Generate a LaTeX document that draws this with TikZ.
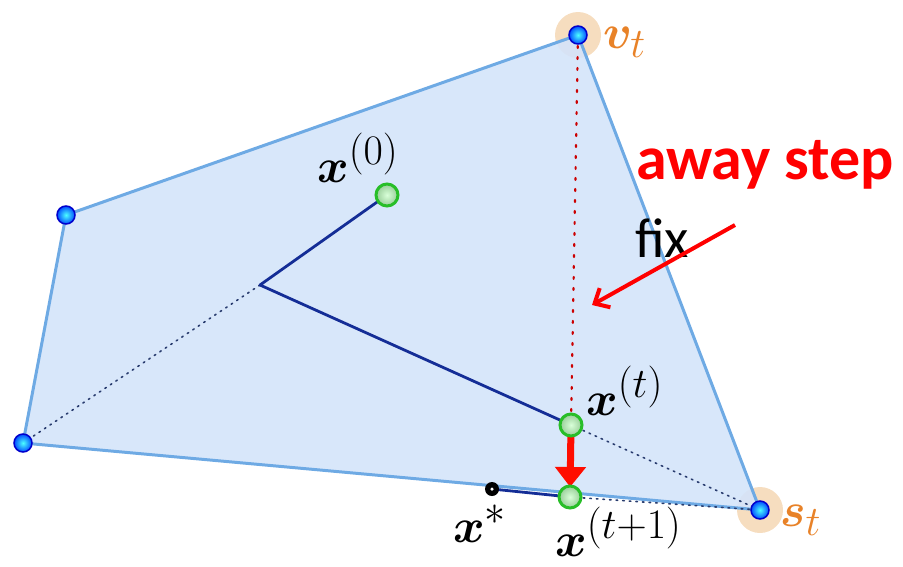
\RequirePackage{fix-cm}
\documentclass[tikz,border=0pt]{standalone}
\usepackage{fontspec}
\usepackage{amsmath,bm}
\DeclareMathSizes{48}{48}{42}{34}
\newfontfamily\calib{Carlito}
\usetikzlibrary{arrows.meta}
\definecolor{polyfill}{RGB}{212,228,250}
\definecolor{polyedge}{RGB}{110,170,228}
\definecolor{pathblue}{RGB}{20,45,150}
\definecolor{dotblue}{RGB}{40,60,110}
\definecolor{halo}{RGB}{245,215,180}
\definecolor{orangetxt}{RGB}{232,130,40}
\definecolor{ptgreen}{RGB}{40,190,40}
\tikzset{
  vtx/.style={circle,inner sep=0pt,minimum size=18pt,draw=blue!80!black,line width=1.5pt,inner color=cyan!70,outer color=blue!70!cyan},
  grn/.style={circle,inner sep=0pt,minimum size=22pt,draw=ptgreen,line width=3pt,inner color=white!85!green,outer color=green!35!gray!60},
  haloc/.style={circle,inner sep=0pt,minimum size=46pt,fill=halo,opacity=0.85},
  lbl/.style={inner sep=0pt,anchor=base west,font=\fontsize{48}{52}\selectfont},
  pth/.style={pathblue,line width=2.8pt},
  dts/.style={dotblue,line width=1.6pt,dash pattern=on 1.6pt off 5pt,line cap=round},
}
\begin{document}
\begin{tikzpicture}[x=1pt,y=-1pt]
\useasboundingbox (0,0) rectangle (903,566);
% halos
\node[haloc] (hv) at (578,35) {};
\node[haloc] (hs) at (760,510) {};
% polygon
\coordinate (V) at (578,35);
\coordinate (S) at (760,510);
\coordinate (L) at (23,443);
\coordinate (U) at (66,215);
\coordinate (C) at (260,285);
\coordinate (X0) at (387,195);
\coordinate (XT) at (571,425);
\coordinate (XN) at (570,497);
\coordinate (XS) at (492,489);
\fill[polyfill,opacity=0.9] (V) -- (S) -- (L) -- (U) -- cycle;
\draw[polyedge,line width=3pt,line join=round] (V) -- (S) -- (L) -- (U) -- cycle;
% dotted lines
\draw[dts] (C) -- (L);
\draw[dts] (XT) -- (S);
\draw[dts] (XN) -- (S);
\draw[red!80!black,line width=2.2pt,dash pattern=on 2pt off 9pt,line cap=round] (V) -- (XT);
% path
\draw[pth,line join=round] (X0) -- (C) -- (XT);
\draw[pth] (XS) -- (XN);
% red arrow
\draw[red!90!orange,line width=7pt,-{Triangle[width=30pt,length=20pt]},shorten >=10pt,shorten <=9pt] (XT) -- (XN);
% points
\node[vtx] (nv) at (V) {};
\node[vtx] (ns) at (S) {};
\node[vtx] (nl) at (L) {};
\node[vtx] (nu) at (U) {};
\node[circle,fill=black,inner sep=0pt,minimum size=14pt] (nxs) at (XS) {};
\node[circle,fill=white,inner sep=0pt,minimum size=3.5pt] (nxsc) at (XS) {};
\node[grn] (n0) at (X0) {};
\node[grn] (nt) at (XT) {};
\node[grn] (nn) at (XN) {};
% labels
\node[lbl] (l0) at (317,182) {$\bm{x}^{(0)}$};
\node[lbl,text=orangetxt] (lv) at (603,48) {$\bm{v}_t$};
\node[lbl] (lt) at (586,415) {$\bm{x}^{(t)}$};
\node[lbl] (ls) at (453,542) {$\bm{x}^{*}$};
\node[lbl] (ln) at (555,556) {$\bm{x}^{(t+1)}$};
\node[lbl,text=orangetxt] (lst) at (780,526) {$\bm{s}_t$};
% annotations
\node[inner sep=0pt,text=red,font=\calib\bfseries\fontsize{62}{68}\selectfont] (aw) at (765,165) {away step};
\node[inner sep=0pt,font=\calib\fontsize{56}{60}\selectfont] (fx) at (662,238) {fix};
\coordinate (a1) at (735,225);
\coordinate (a2) at (592,305);
\draw[red,line width=4pt,-{Straight Barb[width=22pt,length=12pt]}] (a1) -- (a2);
\end{tikzpicture}
\end{document}
